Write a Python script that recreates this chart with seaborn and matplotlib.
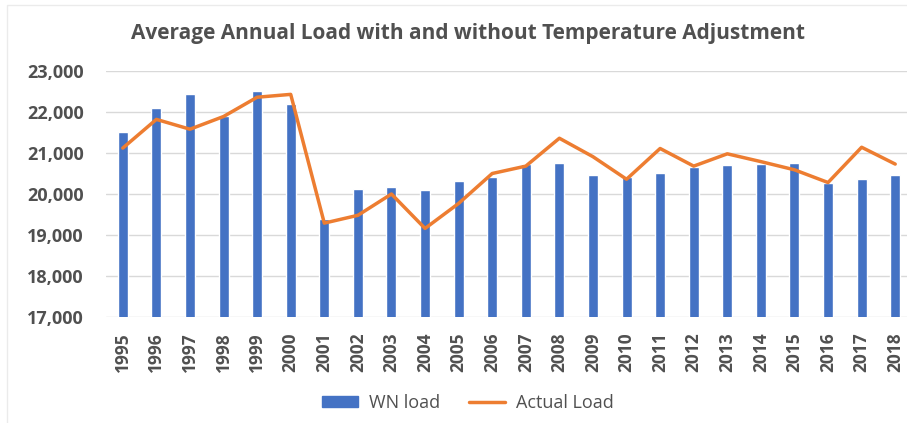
import numpy as np
import pandas as pd
import matplotlib
matplotlib.use("Agg")
import matplotlib.pyplot as plt
import seaborn as sns
from matplotlib.patches import Patch, Rectangle
from matplotlib.lines import Line2D

# Data
years = [str(y) for y in range(1995, 2019)]
wn_load = [21520, 22100, 22430, 21900, 22520, 22200, 19380, 20120, 20170, 20100,
           20310, 20420, 20740, 20760, 20460, 20420, 20520, 20650, 20700, 20740,
           20760, 20280, 20360, 20460]
actual_load = [21120, 21820, 21580, 21890, 22360, 22430, 19290, 19480, 20000, 19160,
               19770, 20500, 20680, 21360, 20910, 20360, 21110, 20680, 20980, 20790,
               20590, 20280, 21140, 20730]

df = pd.DataFrame({"year": years, "wn": wn_load, "actual": actual_load})

sns.set_theme(style="white")
plt.rcParams['font.family'] = ['Open Sans', 'DejaVu Sans']
text_col = "#505050"

fig = plt.figure(figsize=(9.07, 4.23), dpi=100)
# faint chart frame
fig.patches.append(Rectangle((7 / 907, -0.1), 1.2, 1.1 - 5 / 423, transform=fig.transFigure,
                             fill=False, edgecolor="#EBEBEB", linewidth=1))
ax = fig.add_axes([106 / 907, 106 / 423, 806 / 907, 246 / 423])

sns.barplot(data=df, x="year", y="wn", color="#4472C4", width=0.3,
            saturation=1, ax=ax, zorder=2)
sns.lineplot(x=np.arange(len(years)), y=df["actual"], color="#ED7D31",
             linewidth=2.5, sort=False, ax=ax, zorder=3)

ax.set_ylim(17000, 23000)
ax.set_xlim(-0.5, len(years) - 0.5)
ax.set_yticks(range(17000, 23001, 1000))
ax.set_yticklabels([f"{v:,}" for v in range(17000, 23001, 1000)])
ax.yaxis.grid(True, color="#D9D9D9", linewidth=1, zorder=0)
ax.set_axisbelow(True)
for s in ax.spines.values():
    s.set_visible(False)
ax.set_xlabel("")
ax.set_ylabel("")
ax.tick_params(axis="y", length=0, pad=16, labelsize=13, labelcolor=text_col)
ax.tick_params(axis="x", length=0, pad=11, labelsize=12.5, labelcolor=text_col,
               rotation=90)
for lab in ax.get_xticklabels() + ax.get_yticklabels():
    lab.set_fontweight("bold")

fig.text(468 / 907, 1 - 34 / 423,
         "Average Annual Load with and without Temperature Adjustment",
         ha="center", va="center", fontsize=15, fontweight="bold",
         color=text_col)

handles = [Patch(color="#4472C4", label="WN load"),
           Line2D([0], [0], color="#ED7D31", linewidth=2.5, label="Actual Load")]
fig.legend(handles=handles, loc="center", bbox_to_anchor=(468 / 907, 1 - 403 / 423),
           ncol=2, frameon=False, fontsize=13, labelcolor=text_col,
           handlelength=2.0, handleheight=0.5, columnspacing=1.6, handletextpad=0.6)

fig.savefig("out.png", dpi=100)
